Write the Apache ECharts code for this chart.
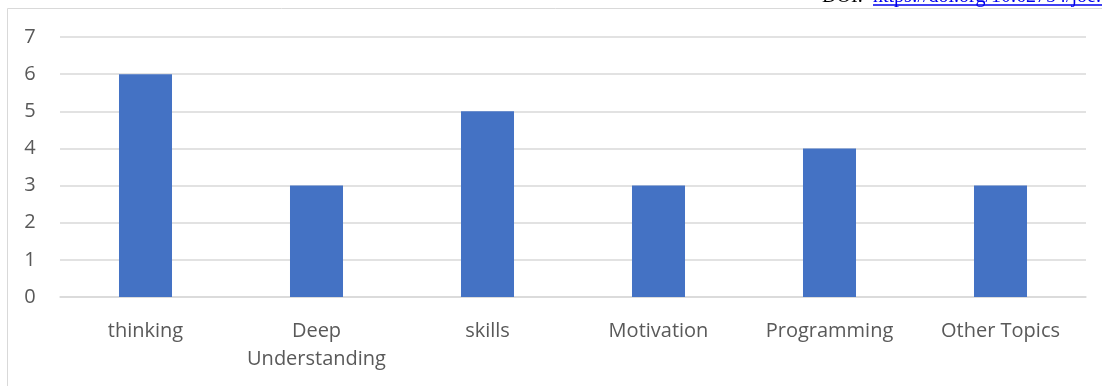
<!DOCTYPE html>
<html><head><meta charset="utf-8">
<script src="https://cdn.jsdelivr.net/npm/echarts@6/dist/echarts.min.js"></script>
<style>html,body{margin:0;padding:0;background:#fff}#c{width:1102px;height:386px}</style>
</head><body><div id="c"></div>
<script>
const categories = ['thinking', 'Deep\nUnderstanding', 'skills', 'Motivation', 'Programming', 'Other Topics'];
const values = [6, 3, 5, 3, 4, 3];
const yTicks = [0, 1, 2, 3, 4, 5, 6, 7];

const chart = echarts.init(document.getElementById('c'), null, {renderer: 'canvas'});
chart.setOption({
  animation: false,
  backgroundColor: '#fff',
  grid: {left: 60, right: 16, top: 37, bottom: 89, containLabel: false},
  xAxis: {
    type: 'category', data: categories,
    axisLine: {show: true, lineStyle: {color: '#d9d9d9', width: 1.5}},
    axisTick: {show: false},
    axisLabel: {color: '#595959', fontSize: 20, fontFamily: 'Open Sans', margin: 20, lineHeight: 28, interval: 0}
  },
  yAxis: {
    type: 'value', min: yTicks[0], max: yTicks[yTicks.length - 1], interval: 1,
    axisLine: {show: false}, axisTick: {show: false},
    splitLine: {lineStyle: {color: '#d9d9d9', width: 1.5}},
    axisLabel: {color: '#595959', fontSize: 20, fontFamily: 'Open Sans', margin: 30, align: 'center'}
  },
  series: [{
    type: 'bar', data: values, barWidth: '31%',
    itemStyle: {color: '#4472c4'}
  }],
  graphic: [
    {type: 'rect', shape: {x: 7.5, y: 8.5, width: 1200, height: 500}, style: {fill: 'none', stroke: '#d9d9d9', lineWidth: 1}, silent: true},
    {type: 'text', left: 822, top: -13, style: {text: 'DOI:', font: '20px "Liberation Serif"', fill: '#000'}},
    {type: 'text', left: 873, top: -13, style: {text: 'https://doi.org/10.62754/joe.v3i8', font: '20px "Liberation Serif"', fill: '#0000ee'}},
    {type: 'line', shape: {x1: 873, y1: 5, x2: 1102, y2: 5}, style: {stroke: '#0000ee', lineWidth: 1.5}}
  ]
});
</script></body></html>
